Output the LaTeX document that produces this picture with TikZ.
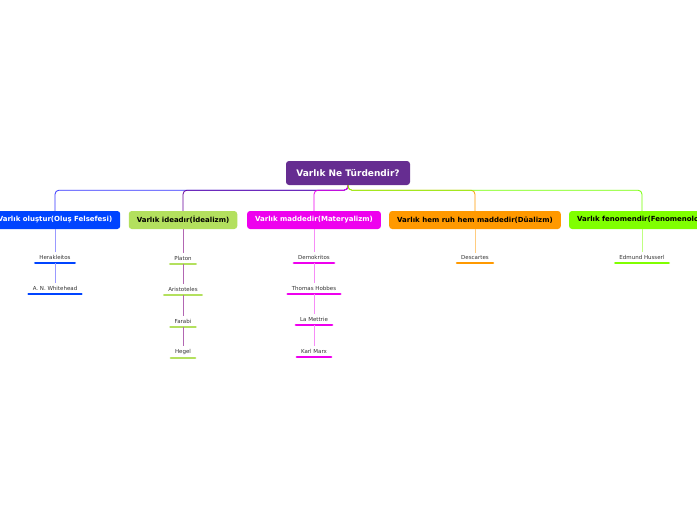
\documentclass[tikz,border=0pt]{standalone}
\usepackage{fontspec}
\setmainfont{DejaVu Sans}
\usepackage{tikz}

\definecolor{rootpurple}{HTML}{662D91}
\definecolor{oblue}{HTML}{0044FF}
\definecolor{igreen}{HTML}{B3E05E}
\definecolor{mmagenta}{HTML}{EE00EE}
\definecolor{dorange}{HTML}{FF9900}
\definecolor{flime}{HTML}{80FF00}
\definecolor{leafgrey}{HTML}{333333}

\tikzset{
    root/.style={fill=rootpurple, rounded corners=3pt, text=white, font=\fontsize{9}{10}\selectfont\bfseries, minimum width=124pt, minimum height=24pt},
    branch/.style={rounded corners=3pt, font=\fontsize{7}{8}\selectfont\bfseries, minimum height=18pt, inner xsep=8pt},
    leaf/.style={anchor=south, inner xsep=4pt, inner ysep=3pt, text=leafgrey, font=\fontsize{5.5}{6.5}\selectfont},
    link/.style={line width=0.8pt, rounded corners=4pt},
    sublink/.style={line width=0.8pt},
    bar/.style={line width=2.6pt, line cap=round},
}

\begin{document}
\begin{tikzpicture}[x=1pt, y=-1pt]
    \useasboundingbox (0,0) rectangle (697,520);
    \clip (0,0) rectangle (697,520);

    \node[root] (root) at (348,173) {Varlık Ne Türdendir?};

    \node[branch, fill=oblue, text=white] (b1) at (55,220) {Varlık oluştur(Oluş Felsefesi)};
    \node[branch, fill=igreen, text=black] (b2) at (183,220) {Varlık ideadır(İdealizm)};
    \node[branch, fill=mmagenta, text=white] (b3) at (314,220) {Varlık maddedir(Materyalizm)};
    \node[branch, fill=dorange, text=black] (b4) at (475,220) {Varlık hem ruh hem maddedir(Düalizm)};
    \node[branch, fill=flime, text=black] (b5) at (642,220) {Varlık fenomendir(Fenomenoloji)};

    \draw[link, draw=blue!80!white] (root.south) -- ++(0,5) -| (b1.north);
    \draw[link, draw=violet!80!blue] (root.south) -- ++(0,5) -| (b2.north);
    \draw[link, draw=mmagenta] (root.south) -- ++(0,5) -| (b3.north);
    \draw[link, draw=dorange] (root.south) -- ++(0,5) -| (b4.north);
    \draw[link, draw=flime!90!green] (root.south) -- ++(0,5) -| (b5.north);

    % oluş felsefesi
    \node[leaf] (herakleitos) at (55,263) {Herakleitos};
    \node[leaf] (whitehead) at (55,294) {A. N. Whitehead};

    % idealizm
    \node[leaf] (platon) at (183,264) {Platon};
    \node[leaf] (aristoteles) at (183,295) {Aristoteles};
    \node[leaf] (farabi) at (183,327) {Farabi};
    \node[leaf] (hegel) at (183,358) {Hegel};

    % materyalizm
    \node[leaf] (demokritos) at (314,263) {Demokritos};
    \node[leaf] (hobbes) at (314,294) {Thomas Hobbes};
    \node[leaf] (mettrie) at (314,325) {La Mettrie};
    \node[leaf] (marx) at (314,357) {Karl Marx};

    % düalizm, fenomenoloji
    \node[leaf] (descartes) at (475,263) {Descartes};
    \node[leaf] (husserl) at (642,263) {Edmund Husserl};

    \foreach \n/\c in {herakleitos/oblue, whitehead/oblue, platon/igreen, aristoteles/igreen, farabi/igreen, hegel/igreen, demokritos/mmagenta, hobbes/mmagenta, mettrie/mmagenta, marx/mmagenta, descartes/dorange, husserl/flime}
        \draw[bar, draw=\c] (\n.south west) -- (\n.south east);

    \draw[sublink, draw=blue!40!white] (b1.south) -- (herakleitos.north);
    \draw[sublink, draw=blue!40!white] (herakleitos.south) -- (whitehead.north);

    \draw[sublink, draw=violet!60!white] (b2.south) -- (platon.north);
    \draw[sublink, draw=violet!60!white] (platon.south) -- (aristoteles.north);
    \draw[sublink, draw=violet!60!white] (aristoteles.south) -- (farabi.north);
    \draw[sublink, draw=violet!60!white] (farabi.south) -- (hegel.north);

    \draw[sublink, draw=mmagenta!45!white] (b3.south) -- (demokritos.north);
    \draw[sublink, draw=mmagenta!45!white] (demokritos.south) -- (hobbes.north);
    \draw[sublink, draw=mmagenta!45!white] (hobbes.south) -- (mettrie.north);
    \draw[sublink, draw=mmagenta!45!white] (mettrie.south) -- (marx.north);

    \draw[sublink, draw=dorange!50!white] (b4.south) -- (descartes.north);
    \draw[sublink, draw=flime!50!white] (b5.south) -- (husserl.north);
\end{tikzpicture}
\end{document}
